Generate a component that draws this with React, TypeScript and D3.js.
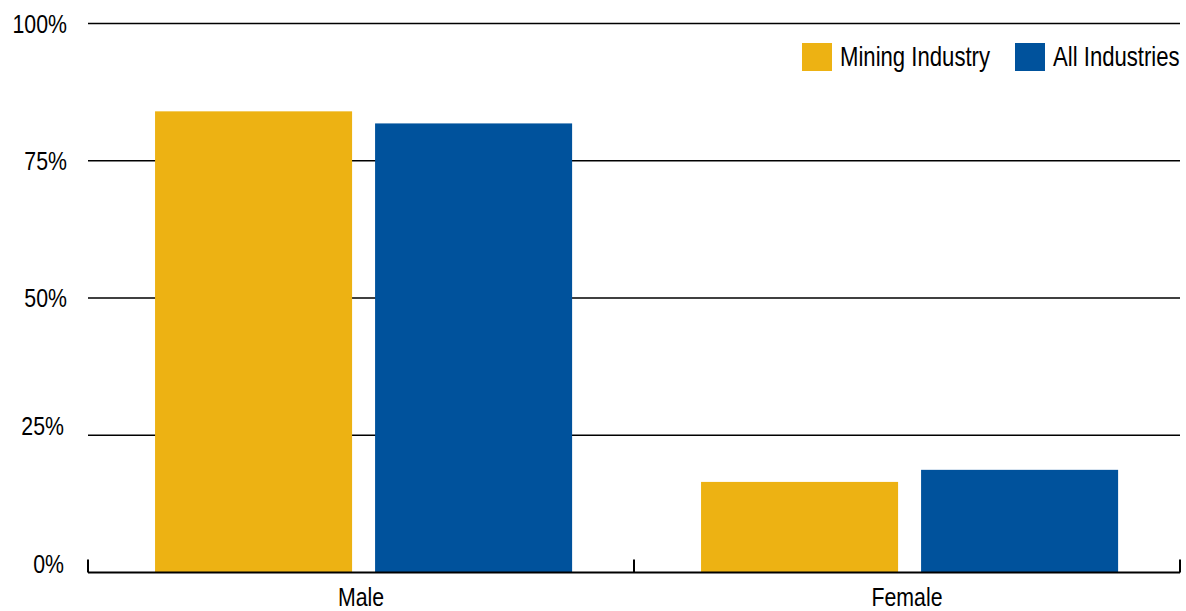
import React from "react";
import * as d3 from "d3";

const categories = ["Male", "Female"];
const seriesNames = ["Mining Industry", "All Industries"];
const miningValues = [84, 16.5];
const allValues = [81.8, 18.7];
const yTicks = [0, 25, 50, 75, 100];
const colors = ["#EDB213", "#00529C"];

const W = 1186;
const H = 611;
const FONT = "'Liberation Sans', Arial, sans-serif";
const SX = 0.82;

function NText(props: {
  x: number;
  y: number;
  size: number;
  anchor?: "start" | "middle" | "end";
  baseline?: string;
  children: React.ReactNode;
}) {
  return (
    <text
      transform={`translate(${props.x},${props.y}) scale(${SX},1)`}
      textAnchor={props.anchor || "start"}
      dominantBaseline={props.baseline || "auto"}
      fontFamily={FONT}
      fontSize={props.size}
      fill="#000"
    >
      {props.children}
    </text>
  );
}

export default function App() {
  const left = 88;
  const right = 1180;
  const top = 23.5;
  const bottom = 572.5;

  const x0 = d3.scaleBand<string>().domain(categories).range([left, right]).padding(0);
  const x1 = d3
    .scaleBand<string>()
    .domain(seriesNames)
    .range([0, x0.bandwidth()])
    .paddingInner(0.1045)
    .paddingOuter(0.293)
    .align(0.52);
  const y = d3.scaleLinear().domain([0, 100]).range([bottom, top]);
  const fmt = (v: number) => `${v}%`;
  const seriesValues = [miningValues, allValues];

  return (
    <svg width={W} height={H} style={{ position: "absolute", left: 0, top: 0, background: "#fff" }}>
      {yTicks.filter((t) => t > 0).map((t) => (
        <line key={t} x1={left} x2={right} y1={y(t)} y2={y(t)} stroke="#000" strokeWidth={1.5} />
      ))}
      {yTicks.map((t) => (
        <NText
          key={"l" + t}
          x={t >= 50 ? 67 : 64}
          y={(t <= 25 ? y(t) - 9 : y(t)) + 9}
          anchor="end"
          size={26}
        >
          {fmt(t)}
        </NText>
      ))}
      {categories.map((c, ci) => (
        <g key={c} transform={`translate(${x0(c)},0)`}>
          {seriesNames.map((s, si) => (
            <rect
              key={s}
              x={x1(s)}
              y={y(seriesValues[si][ci])}
              width={x1.bandwidth()}
              height={bottom - y(seriesValues[si][ci])}
              fill={colors[si]}
            />
          ))}
          <NText x={x0.bandwidth() / 2} y={606} anchor="middle" size={26}>
            {c}
          </NText>
        </g>
      ))}
      <line x1={left} x2={right} y1={bottom} y2={bottom} stroke="#000" strokeWidth={2} />
      {[left, ...categories.map((c) => (x0(c) as number) + x0.bandwidth())].map((tx, i) => (
        <line key={"t" + i} x1={tx} x2={tx} y1={bottom} y2={bottom - 13} stroke="#000" strokeWidth={2} />
      ))}
      {seriesNames.map((s, i) => {
        const lx = i === 0 ? 802 : 1015;
        return (
          <g key={s}>
            <rect x={lx} y={43} width={30} height={28} fill={colors[i]} />
            <NText x={lx + 38} y={66} size={27}>
              {s}
            </NText>
          </g>
        );
      })}
    </svg>
  );
}
